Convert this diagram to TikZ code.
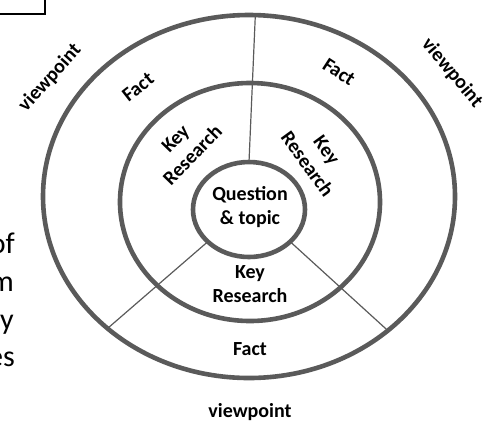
\documentclass[tikz,border=0pt]{standalone}
\usepackage{fontspec}
\setmainfont{Carlito}
\usetikzlibrary{shapes.geometric}
\pgfdeclarelayer{background}
\pgfsetlayers{background,main}
\begin{document}
\begin{tikzpicture}[x=1pt,y=-1pt,
  ring/.style={draw=ringgray,line width=4.6pt,ellipse,inner sep=0pt,outer sep=0pt},
  divider/.style={draw=ringgray,line width=1.2pt},
  lbl/.style={font=\fontsize{20}{24}\selectfont\bfseries,align=center,inner sep=0pt,text=black},
  para/.style={font=\fontsize{30}{36}\selectfont,anchor=base east,inner sep=0pt,text=black}]
\definecolor{ringgray}{HTML}{5A5A5A}
\useasboundingbox (0,0) rectangle (495,421);
% three nested rings
\node[ring,minimum width=412pt,minimum height=363pt] (o) at (249,196.5) {};
\node[ring,minimum width=260pt,minimum height=238pt] (m) at (250,202) {};
\node[ring,minimum width=112pt,minimum height=95pt] (q) at (249,209.5) {};
% radial dividers, kept beneath the ring strokes
\begin{pgfonlayer}{background}
\draw[divider] (q.90) -- (o.88.8);
\draw[divider] (q.218) -- (o.223.5);
\draw[divider] (q.322) -- (o.316.5);
\end{pgfonlayer}
% labels
\node[lbl] (topic) at (250,207) {Question\\\& topic};
\node[lbl] (kr1) at (250,284) {Key\\Research};
\node[lbl] (kr2) at (184,147) [rotate=46] {Key\\Research};
\node[lbl] (kr3) at (317,157) [rotate=-54] {Key\\Research};
\node[lbl] (f1) at (250,349) {Fact};
\node[lbl] (f2) at (138,87) [rotate=38] {Fact};
\node[lbl] (f3) at (339,72) [rotate=-33] {Fact};
\node[lbl] (v1) at (250,412) {viewpoint};
\node[lbl] (v2) at (50,78) [rotate=48] {viewpoint};
\node[lbl] (v3) at (452,73) [rotate=-50] {viewpoint};
% neighbouring page content
\draw[black,line width=1.2pt] (-10,-10) rectangle (45,14);
\node[para] (p1) at (15,253) {of};
\node[para] (p2) at (14,291) {m};
\node[para] (p3) at (14,329) {y};
\node[para] (p4) at (15,366) {es};
\end{tikzpicture}
\end{document}
